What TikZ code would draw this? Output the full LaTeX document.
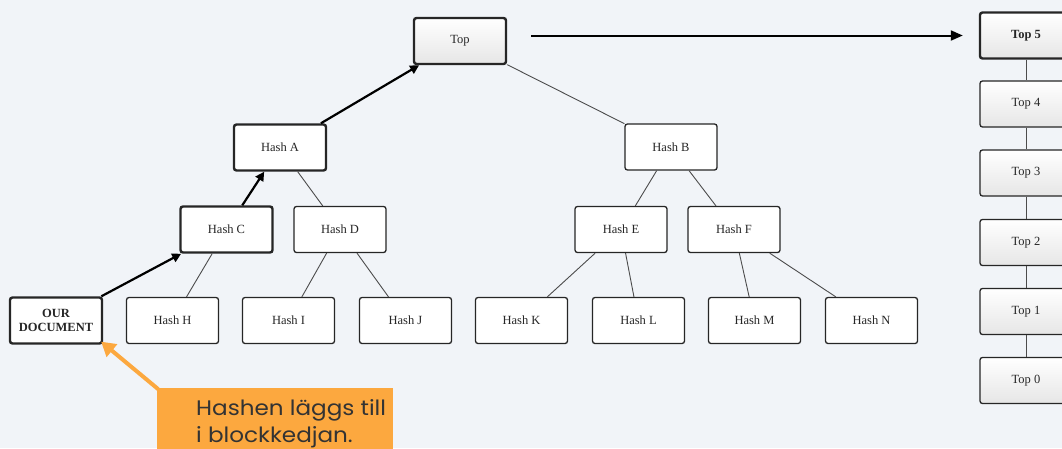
\documentclass[tikz,border=0pt]{standalone}
\usepackage{fontspec}
\setmainfont{Liberation Serif}
\newfontfamily\calloutfont[FakeStretch=1.1]{Poppins}
\usetikzlibrary{arrows.meta}
\definecolor{bg}{HTML}{F1F4F8}
\definecolor{callout}{HTML}{FCA83F}
\definecolor{callouttext}{HTML}{333333}
\definecolor{gradbot}{HTML}{E6E6E6}
\tikzset{
  hbox/.style={draw=black!85, line width=1.3pt, rounded corners=2.5pt, fill=white,
    minimum width=92pt, minimum height=46pt, inner sep=0pt,
    font=\fontsize{12.5}{14}\selectfont, text=black!85},
  hboxthick/.style={hbox, line width=2.4pt},
  gbox/.style={hbox, fill=none, top color=white, bottom color=gradbot},
  gboxthick/.style={gbox, line width=2.4pt},
  thinline/.style={draw=black!70, line width=0.9pt},
  thickarrow/.style={draw=black, line width=2.2pt, -{Triangle[length=9pt,width=9pt]}},
}
\begin{document}
\begin{tikzpicture}[x=1pt,y=-1pt]
\fill[bg] (0,0) rectangle (1062,448);
\useasboundingbox (0,0) rectangle (1062,448);

% nodes
\node[gboxthick] (top) at (460,41) {Top};
\node[hboxthick] (ha) at (280,147.5) {Hash A};
\node[hbox] (hb) at (671,147) {Hash B};
\node[hboxthick] (hc) at (226.5,229.5) {Hash C};
\node[hbox] (hd) at (340,229.5) {Hash D};
\node[hbox] (he) at (621,229.5) {Hash E};
\node[hbox] (hf) at (734,229.5) {Hash F};
\node[hboxthick, align=center, font=\fontsize{12.5}{13.5}\selectfont\bfseries] (doc) at (56,320.5) {OUR\\DOCUMENT};
\node[hbox] (hh) at (172.5,320.5) {Hash H};
\node[hbox] (hi) at (288.5,320.5) {Hash I};
\node[hbox] (hj) at (405.5,320.5) {Hash J};
\node[hbox] (hk) at (521.5,320.5) {Hash K};
\node[hbox] (hl) at (638.5,320.5) {Hash L};
\node[hbox] (hm) at (754.5,320.5) {Hash M};
\node[hbox] (hn) at (871.5,320.5) {Hash N};

% chain column
\node[gboxthick, font=\fontsize{12.5}{14}\selectfont\bfseries] (t5) at (1026,35.5) {Top 5};
\node[gbox] (t4) at (1026,104) {Top 4};
\node[gbox] (t3) at (1026,173) {Top 3};
\node[gbox] (t2) at (1026,242.5) {Top 2};
\node[gbox] (t1) at (1026,311.5) {Top 1};
\node[gbox] (t0) at (1026,380.5) {Top 0};

% thin tree lines
\draw[thinline] (top) -- (hb);
\draw[thinline] (ha) -- (hd);
\draw[thinline] (hb) -- (he);
\draw[thinline] (hb) -- (hf);
\draw[thinline] (hc) -- (hh);
\draw[thinline] (hd) -- (hi);
\draw[thinline] (hd) -- (hj);
\draw[thinline] (he) -- (hk);
\draw[thinline] (he) -- (hl);
\draw[thinline] (hf) -- (hm);
\draw[thinline] (hf) -- (hn);

% chain lines
\draw[thinline] (t5) -- (t4);
\draw[thinline] (t4) -- (t3);
\draw[thinline] (t3) -- (t2);
\draw[thinline] (t2) -- (t1);
\draw[thinline] (t1) -- (t0);

% thick path arrows
\draw[thickarrow] (doc) -- (hc);
\draw[thickarrow] (hc) -- (ha);
\draw[thickarrow] (ha) -- (top);

% top to chain arrow
\coordinate (astart) at ([xshift=24pt]top.east |- t5.west);
\draw[black, line width=2pt, -{Triangle[length=12pt,width=10pt]}] (astart) -- ([xshift=-16pt]t5.west);

% callout
\node[fill=callout, anchor=north west, minimum width=236pt, minimum height=70pt, inner sep=0pt] (box) at (157,388) {};
\node[anchor=north west, align=left, text=callouttext, font=\calloutfont\fontsize{21}{27}\selectfont, inner sep=0pt] (boxtext) at (196,399) {Hashen läggs till\\i blockkedjan.};
\draw[callout, line width=4pt, -{Triangle[length=14pt,width=16pt]}] ([xshift=1pt,yshift=-1pt]box.north west) -- ([xshift=-2pt,yshift=3pt]doc.south east);
\end{tikzpicture}
\end{document}
